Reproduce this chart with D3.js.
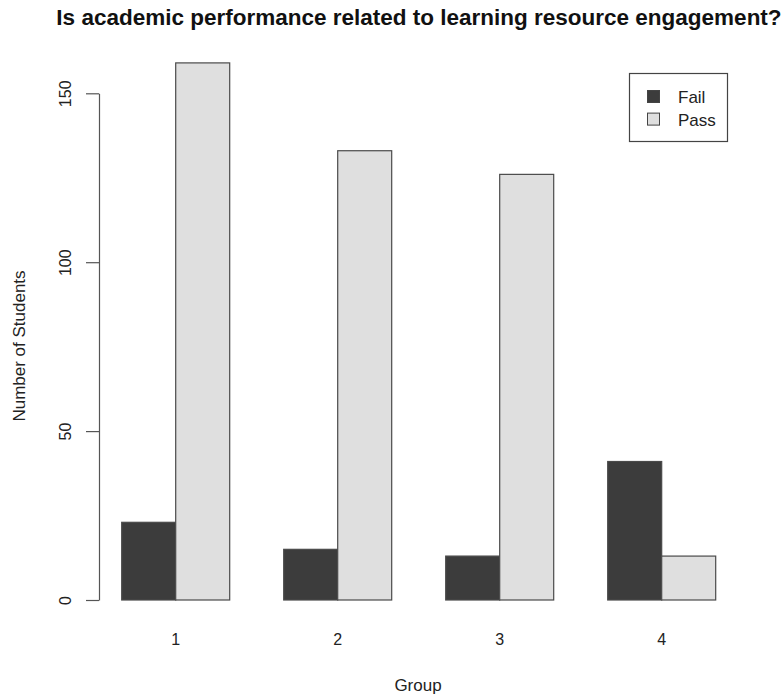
<!DOCTYPE html>
<html>
<head>
<meta charset="utf-8">
<script src="https://cdn.jsdelivr.net/npm/d3@7"></script>
<style>
  body { margin: 0; background: #fff; }
  svg { display: block; font-family: "Liberation Sans", Arial, Helvetica, sans-serif; }
</style>
</head>
<body>
<svg id="chart" width="782" height="697"></svg>
<script>
// ---- data ----
const groups = ["1", "2", "3", "4"];
const seriesNames = ["Fail", "Pass"];
const failValues = [23, 15, 13, 41];
const passValues = [159, 133, 126, 13];
const yTicks = [0, 50, 100, 150];
const seriesColors = ["#3c3c3c", "#dfdfdf"];

const titleText = "Is academic performance related to learning resource engagement?";
const xLabel = "Group";
const yLabel = "Number of Students";

// ---- build ----
const svg = d3.select("#chart");
const values = [failValues, passValues];

const x0 = d3.scaleBand().domain(groups).range([121.7, 715.7]).paddingInner(1/3).paddingOuter(0);
const x1 = d3.scaleBand().domain(seriesNames).range([0, x0.bandwidth()]).padding(0);
const y = d3.scaleLinear().domain([0, 150]).range([600, 93.3]);
const color = d3.scaleOrdinal().domain(seriesNames).range(seriesColors);

// bars
const gGroups = svg.append("g").selectAll("g")
  .data(groups)
  .join("g")
  .attr("transform", d => `translate(${x0(d)},0)`);

gGroups.selectAll("rect")
  .data((g, gi) => seriesNames.map((s, si) => ({ s, v: values[si][gi] })))
  .join("rect")
  .attr("x", d => x1(d.s))
  .attr("width", x1.bandwidth())
  .attr("y", d => y(d.v))
  .attr("height", d => y(0) - y(d.v))
  .attr("fill", d => color(d.s))
  .attr("stroke", "#4a4a4a")
  .attr("stroke-width", 1.2);

// y axis
const yAxis = d3.axisLeft(y).tickValues(yTicks).tickSize(13).tickSizeOuter(0);
const gy = svg.append("g").attr("transform", "translate(99,0)").call(yAxis);
gy.select(".domain").attr("stroke", "#555").attr("stroke-width", 1.2);
gy.selectAll(".tick line").attr("stroke", "#555").attr("stroke-width", 1.2);
gy.selectAll(".tick text")
  .attr("font-size", 16)
  .attr("fill", "#222")
  .attr("text-anchor", "middle")
  .attr("dy", 0)
  .attr("x", 0)
  .attr("transform", "translate(-28,0) rotate(-90)");

// x labels (no axis line, R style)
const xAxis = d3.axisBottom(x0).tickSize(0).tickSizeOuter(0);
const gx = svg.append("g").attr("transform", "translate(0,645)").call(xAxis);
gx.select(".domain").remove();
gx.selectAll(".tick text")
  .attr("font-size", 16)
  .attr("fill", "#222")
  .attr("dy", 0)
  .attr("y", 0);

// title
svg.append("text")
  .attr("x", 419).attr("y", 25)
  .attr("text-anchor", "middle")
  .attr("font-size", 22.5)
  .attr("font-weight", "bold")
  .attr("fill", "#111")
  .text(titleText);

// axis titles
svg.append("text")
  .attr("x", 418).attr("y", 691)
  .attr("text-anchor", "middle")
  .attr("font-size", 17)
  .attr("fill", "#222")
  .text(xLabel);

svg.append("text")
  .attr("transform", "translate(25,346) rotate(-90)")
  .attr("text-anchor", "middle")
  .attr("font-size", 17)
  .attr("fill", "#222")
  .text(yLabel);

// legend
const legend = svg.append("g");
legend.append("rect")
  .attr("x", 629.5).attr("y", 73.5)
  .attr("width", 98).attr("height", 68)
  .attr("fill", "#fff")
  .attr("stroke", "#444")
  .attr("stroke-width", 1.2);

const li = legend.selectAll("g.item")
  .data(seriesNames)
  .join("g")
  .attr("class", "item")
  .attr("transform", (d, i) => `translate(0,${i * 22.6})`);

li.append("rect")
  .attr("x", 647.5).attr("y", 90.5)
  .attr("width", 12).attr("height", 12)
  .attr("fill", d => color(d))
  .attr("stroke", "#444")
  .attr("stroke-width", 1);

li.append("text")
  .attr("x", 678).attr("y", 103)
  .attr("font-size", 17)
  .attr("fill", "#222")
  .text(d => d);
</script>
</body>
</html>
